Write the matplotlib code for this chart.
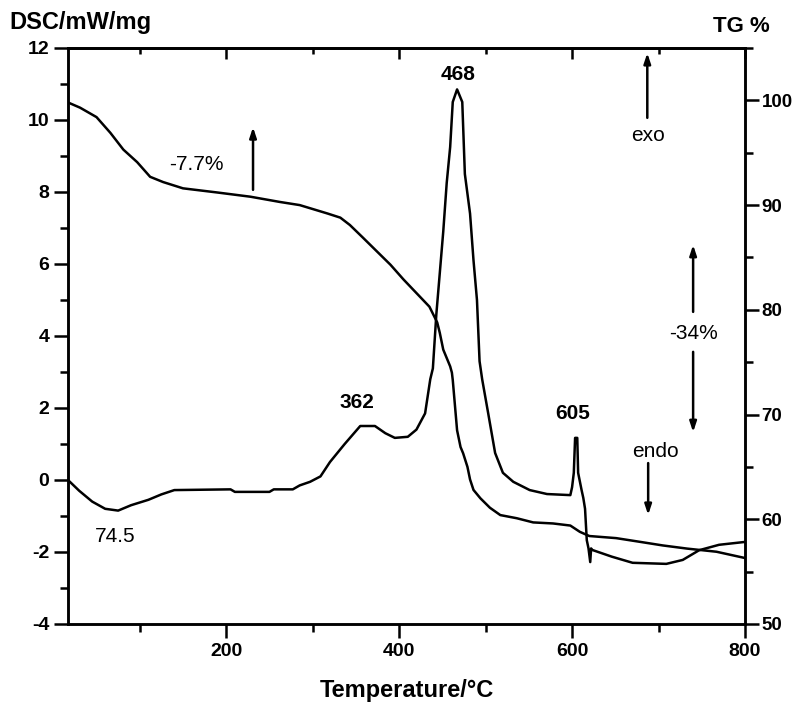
import numpy as np
import matplotlib
matplotlib.use('Agg')
import matplotlib.pyplot as plt
from matplotlib.ticker import MultipleLocator

plt.rcParams['font.family'] = ['Liberation Sans', 'DejaVu Sans']
plt.rcParams['axes.unicode_minus'] = False

# DSC curve (temperature in C, mW/mg)
dsc_t = [17, 30, 45, 60, 75, 90, 110, 125, 140, 205, 210, 250, 255, 277, 285, 297, 309, 320,
         337, 355, 372, 384, 395, 410, 420, 430, 436, 439, 443, 447, 451, 455, 459, 462, 467,
         473, 476, 482, 486, 490, 493, 496, 503, 511, 520, 532, 551, 571, 598, 600, 602, 603.5,
         605, 606, 607, 611, 613, 615, 617, 619, 621, 622, 623, 646, 670, 709, 728, 747, 770, 800]
dsc_v = [0.0, -0.3, -0.6, -0.8, -0.85, -0.7, -0.55, -0.4, -0.28, -0.26, -0.33, -0.33, -0.26, -0.26,
         -0.15, -0.05, 0.1, 0.5, 1.0, 1.5, 1.5, 1.3, 1.17, 1.2, 1.4, 1.85, 2.8, 3.1, 4.6, 5.75, 6.9,
         8.25, 9.25, 10.5, 10.85, 10.5, 8.5, 7.4, 6.1, 5.0, 3.3, 2.8, 1.85, 0.75, 0.2, -0.05, -0.28,
         -0.39, -0.42, -0.2, 0.2, 1.17, 1.17, 1.17, 0.2, -0.28, -0.5, -0.8, -1.67, -1.9, -2.28, -1.9,
         -1.94, -2.13, -2.3, -2.33, -2.22, -1.95, -1.8, -1.72]

# TG curve (temperature in C, mass %)
tg_t = [17, 31, 50, 66, 81, 97, 112, 127, 150, 190, 228, 262, 285, 297, 317, 332, 343, 358, 374,
        390, 405, 420, 435, 444, 447, 451, 459, 461, 462, 467, 471, 474, 479, 482, 486, 494, 505,
        517, 536, 555, 578, 598, 609, 620, 651, 682, 705, 733, 767, 800]
tg_v = [99.8, 99.3, 98.4, 96.9, 95.3, 94.1, 92.7, 92.2, 91.6, 91.2, 90.8, 90.3, 90.0, 89.7, 89.2,
        88.8, 88.1, 86.9, 85.6, 84.3, 82.9, 81.6, 80.3, 78.8, 77.8, 76.2, 74.6, 74.0, 73.3, 68.5,
        66.9, 66.3, 65.0, 63.8, 62.8, 62.0, 61.1, 60.4, 60.1, 59.7, 59.6, 59.4, 58.8, 58.4, 58.2,
        57.8, 57.5, 57.2, 56.9, 56.3]

fig = plt.figure(figsize=(7.94, 7.13), dpi=100)
ax = fig.add_axes([68/794, 1-624/713, (745-68)/794, (624-48)/713])
ax2 = ax.twinx()

lw = 1.8
ax.plot(dsc_t, dsc_v, color='black', lw=lw)
ax2.plot(tg_t, tg_v, color='black', lw=lw)

ax.set_xlim(17, 800)
ax.set_ylim(-4, 12)
ax2.set_ylim(50, 105)

ax.xaxis.set_major_locator(MultipleLocator(200))
ax.xaxis.set_minor_locator(MultipleLocator(100))
ax.yaxis.set_major_locator(MultipleLocator(2))
ax.yaxis.set_minor_locator(MultipleLocator(1))
ax2.yaxis.set_major_locator(MultipleLocator(10))
ax2.yaxis.set_minor_locator(MultipleLocator(5))

for a in (ax, ax2):
    for s in a.spines.values():
        s.set_linewidth(1.8)

ax.tick_params(axis='both', which='major', direction='out', length=10, width=1.8,
               labelsize=14, top=False)
ax.tick_params(axis='both', which='minor', direction='out', length=6, width=1.8, top=False)
ax2.tick_params(axis='y', which='major', direction='out', length=10, width=1.8,
                labelsize=13.5, pad=2)
ax2.tick_params(axis='y', which='minor', direction='out', length=6, width=1.8)

# inward ticks on the top spine
sec = ax.secondary_xaxis('top')
sec.xaxis.set_major_locator(MultipleLocator(200))
sec.xaxis.set_minor_locator(MultipleLocator(100))
sec.tick_params(which='major', direction='in', length=8, width=1.8, labeltop=False)
sec.tick_params(which='minor', direction='in', length=4, width=1.8)
sec.spines['top'].set_linewidth(1.8)

for lab in ax.get_xticklabels() + ax.get_yticklabels() + ax2.get_yticklabels():
    lab.set_fontweight('bold')

ax.set_xlabel('Temperature/°C', fontsize=17, fontweight='bold', labelpad=14)
fig.text(9/794, 1-22/713, 'DSC/mW/mg', fontsize=17, fontweight='bold', va='center', ha='left')
fig.text(741/794, 1-27/713, 'TG %', fontsize=16, fontweight='bold', va='center', ha='center')

# peak labels
ax.text(468, 11.25, '468', fontsize=15, fontweight='bold', ha='center', va='center')
ax.text(351, 2.14, '362', fontsize=15, fontweight='bold', ha='center', va='center')
ax.text(601, 1.86, '605', fontsize=15, fontweight='bold', ha='center', va='center')
ax.text(72, -1.58, '74.5', fontsize=15, ha='center', va='center')
ax.text(165, 8.75, '-7.7%', fontsize=15, ha='center', va='center')
ax.text(688, 9.58, 'exo', fontsize=15, ha='center', va='center')
ax.text(740, 4.08, '-34%', fontsize=15, ha='center', va='center')
ax.text(696, 0.78, 'endo', fontsize=15, ha='center', va='center')

arrow = dict(arrowstyle='-|>,head_length=0.6,head_width=0.2', color='black', lw=1.8,
             shrinkA=0, shrinkB=0)
ax.annotate('', xy=(231, 9.8), xytext=(231, 8.06), arrowprops=arrow)
ax.annotate('', xy=(687, 11.86), xytext=(687, 10.06), arrowprops=arrow)
ax.annotate('', xy=(740, 6.53), xytext=(740, 4.67), arrowprops=arrow)
ax.annotate('', xy=(740, 1.33), xytext=(740, 3.56), arrowprops=arrow)
ax.annotate('', xy=(688, -0.97), xytext=(688, 0.47), arrowprops=arrow)

fig.savefig('out.png', dpi=100)
